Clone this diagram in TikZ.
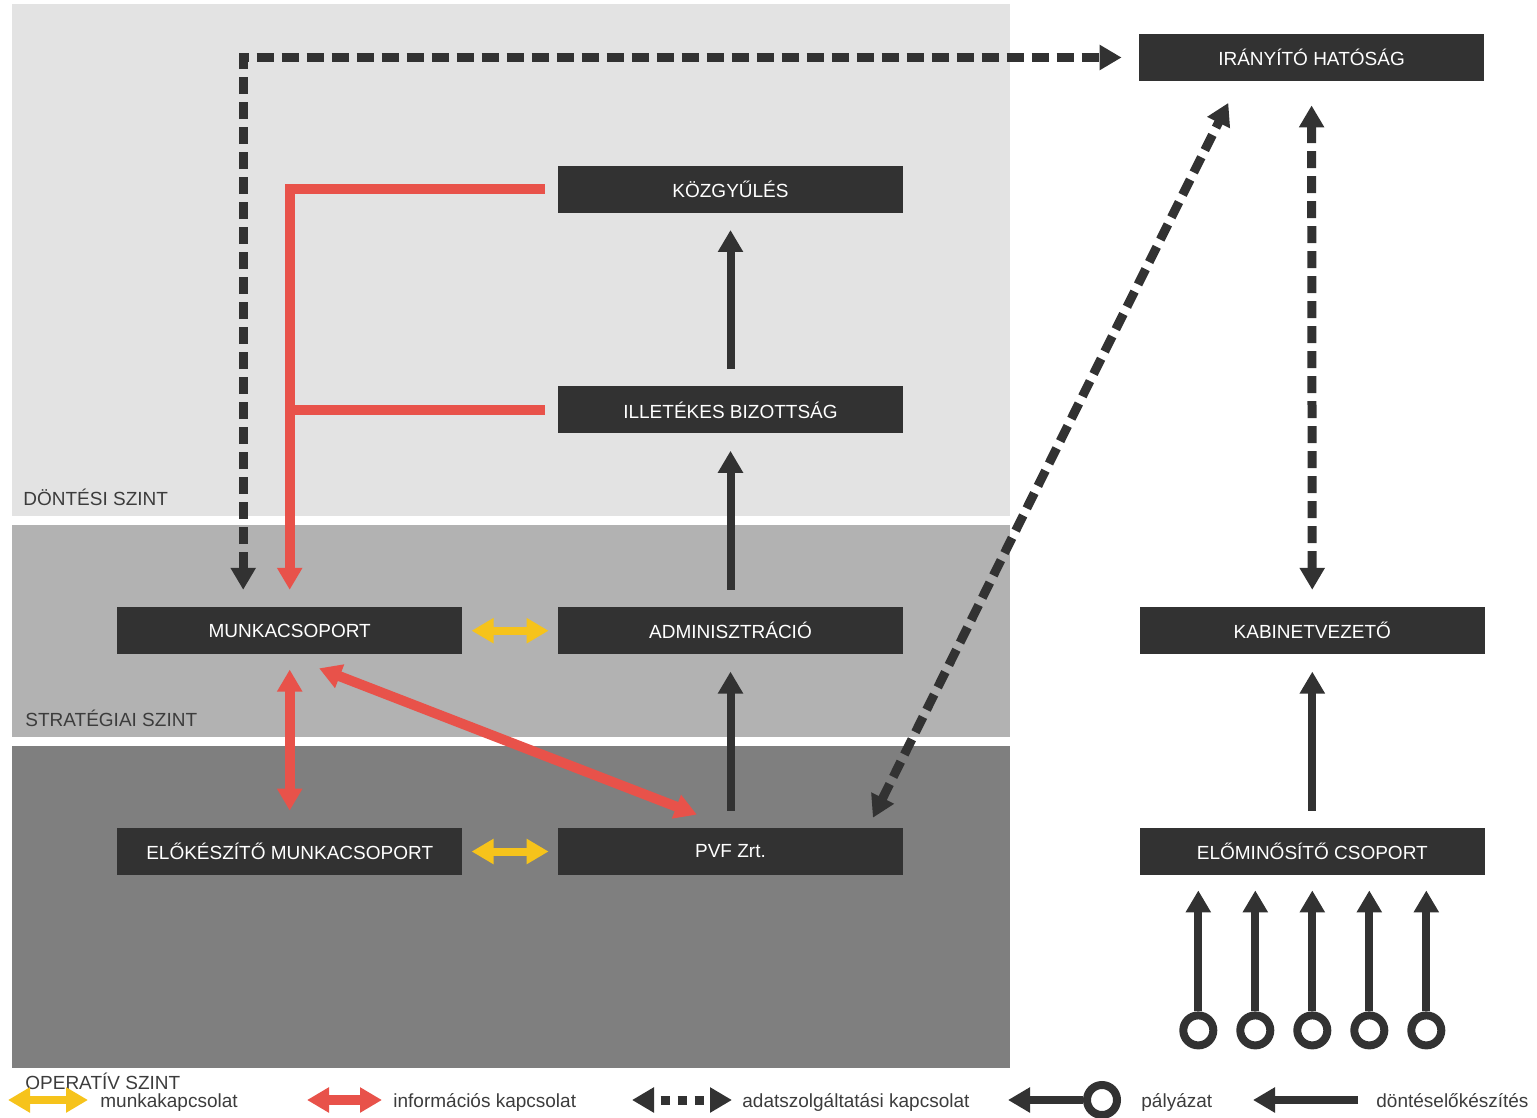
\documentclass[tikz,border=0pt]{standalone}
\usepackage{fontspec}
\setmainfont{Liberation Sans}
\usetikzlibrary{arrows.meta, positioning}

\definecolor{bandtop}{HTML}{E3E3E3}
\definecolor{bandmid}{HTML}{B2B2B2}
\definecolor{bandlow}{HTML}{7F7F7F}
\definecolor{boxdark}{HTML}{323232}
\definecolor{infored}{HTML}{E8524A}
\definecolor{workyellow}{HTML}{F6C31B}
\definecolor{labelgray}{HTML}{3C3C3C}

\begin{document}
\begin{tikzpicture}[x=0.5pt, y=-0.5pt, node distance=86.5pt and 47.5pt,
  font=\fontsize{9.5}{11}\selectfont,
  Head/.tip={Triangle[length=11pt, width=12pt]},
  box/.style={fill=boxdark, text=white, minimum width=172.5pt, minimum height=23.5pt, inner sep=0pt},
  level/.style={text=labelgray, inner sep=0pt},
  dec/.style={draw=boxdark, line width=4pt, -Head},
  adat/.style={draw=boxdark, line width=4.5pt, dash pattern=on 8.5pt off 4pt, Head-Head},
  info/.style={draw=infored, line width=5pt},
  work/.style={draw=workyellow, line width=4pt, Head-Head},
  ring/.style={circle, draw=boxdark, line width=4pt, minimum size=15pt, inner sep=0pt},
  gap/.style={shorten <=8.5pt, shorten >=8.5pt}]
\useasboundingbox (0,0) rectangle (1537,1118);
% levels
\fill[bandtop] (12,4) rectangle (1010,516);
\fill[bandmid] (12,525) rectangle (1010,737);
\fill[bandlow] (12,746) rectangle (1010,1068);
\node[level, anchor=base west] (dontesi) at (23,505) {DÖNTÉSI SZINT};
\node[level, anchor=base west] (strategiai) at (25,726) {STRATÉGIAI SZINT};
\node[level, anchor=base west] (operativ) at (25,1089) {OPERATÍV SZINT};
% boxes
\node[box] (pvf) at (730.5,851.5) {PVF Zrt.};
\node[box, above=of pvf] (admin) {ADMINISZTRÁCIÓ};
\node[box, above=of admin] (bizottsag) {ILLETÉKES BIZOTTSÁG};
\node[box, above=of bizottsag] (kozgyules) {KÖZGYŰLÉS};
\node[box, left=of pvf] (elokeszito) {ELŐKÉSZÍTŐ MUNKACSOPORT};
\node[box, left=of admin] (munkacs) {MUNKACSOPORT};
\node[box, right=118pt of pvf] (elominosito) {ELŐMINŐSÍTŐ CSOPORT};
\node[box, right=118pt of admin] (kabinet) {KABINETVEZETŐ};
\node[box] (iranyito) at (1311.5,57.5) {IRÁNYÍTÓ HATÓSÁG};
% decision flow
\draw[dec, gap] (pvf) -- (admin);
\draw[dec, gap] (admin) -- (bizottsag);
\draw[dec, gap] (bizottsag) -- (kozgyules);
\draw[dec, gap] (elominosito) -- (kabinet);
% applications
\foreach \i in {1,...,5}{
  \node[ring] (ring\i) at ([xshift=(\i-3)*28.5pt, yshift=-77.5pt]elominosito.south) {};
  \draw[dec, shorten >=7.5pt] (ring\i) -- (ring\i |- elominosito.south);
}
% data links
\draw[adat, gap] ([xshift=-23.25pt]munkacs.north) |- (iranyito.west);
\draw[adat, shorten <=12pt, shorten >=8.5pt] (iranyito) -- (kabinet);
\draw[adat, shorten <=5.5pt, shorten >=12pt] ([xshift=68.75pt]pvf.north) -- ([xshift=-36.25pt]iranyito.south);
% info links
\draw[info, -Head, shorten >=8.5pt] ([xshift=-6.5pt]kozgyules.west) -| (munkacs.north);
\draw[info] ([xshift=-6.5pt]bizottsag.west) -- (bizottsag.west -| munkacs.north);
\draw[info, Head-Head, shorten <=7.5pt, shorten >=8.5pt] (munkacs) -- (elokeszito);
\draw[info, Head-Head, shorten <=19pt, shorten >=18pt] ([xshift=-3pt]munkacs.south) -- (pvf.north);
% work links
\draw[work, shorten <=4.5pt, shorten >=4.5pt] (munkacs) -- (admin);
\draw[work, shorten <=4.5pt, shorten >=4.5pt] (elokeszito) -- (pvf);
% legend
\coordinate (lwa) at (8,1100);
\coordinate (lwb) at (88,1100);
\draw[work] (lwa) -- (lwb);
\node[level, anchor=base west] (lwt) at (100,1107) {munkakapcsolat};
\coordinate (lia) at (307,1100);
\coordinate (lib) at (382,1100);
\draw[info, Head-Head] (lia) -- (lib);
\node[level, anchor=base west] (lit) at (393,1107) {információs kapcsolat};
\coordinate (laa) at (632,1100);
\coordinate (lab) at (732,1100);
\draw[adat, dash pattern=on 4.5pt off 4pt, dash phase=4.5pt] (laa) -- (lab);
\node[level, anchor=base west] (lat) at (742,1107) {adatszolgáltatási kapcsolat};
\node[ring] (lpring) at (1102,1100) {};
\coordinate (lpa) at (1008,1100);
\draw[dec] (lpring) -- (lpa);
\node[level, anchor=base west] (lpt) at (1141,1107) {pályázat};
\coordinate (lda) at (1358,1100);
\coordinate (ldb) at (1253,1100);
\draw[dec] (lda) -- (ldb);
\node[level, anchor=base west] (ldt) at (1376,1107) {döntéselőkészítés};
\end{tikzpicture}
\end{document}
